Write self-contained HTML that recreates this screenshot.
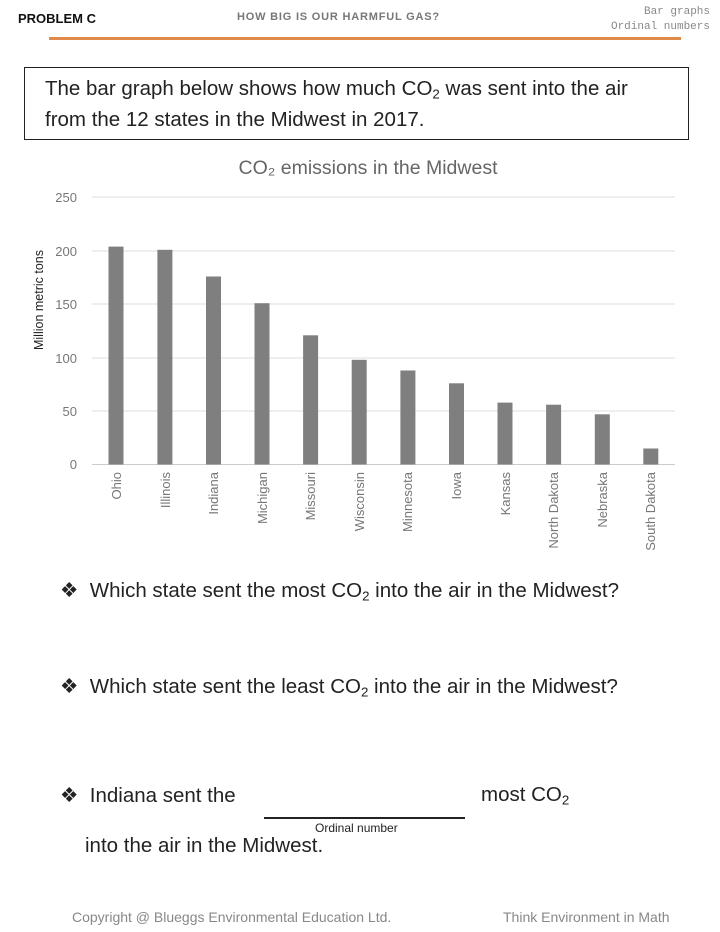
<!DOCTYPE html>
<html><head><meta charset="utf-8"><style>
body{margin:0;width:720px;height:932px;background:#fff;position:relative;overflow:hidden;font-family:"Liberation Sans",sans-serif;}
.a{position:absolute;white-space:nowrap;}
sub{font-size:0.65em;vertical-align:-0.25em;}
</style></head><body>
<div class="a" style="left:18px;top:11px;font:bold 13px 'Liberation Sans',sans-serif;color:#111;">PROBLEM C</div>
<div class="a" style="left:237px;top:11px;font:bold 11px 'Liberation Sans',sans-serif;color:#777;letter-spacing:0.8px;">HOW BIG IS OUR HARMFUL GAS?</div>
<div class="a" style="right:10px;top:5px;font:11px 'Liberation Mono',monospace;color:#888;text-align:right;line-height:15px;">Bar graphs<br>Ordinal numbers</div>
<div class="a" style="left:49px;top:37px;width:632px;height:3px;background:#e08a4a;"></div>
<div class="a" style="left:24px;top:67px;width:663px;height:71px;border:1.5px solid #222;"></div>
<div class="a" style="left:45px;top:76px;font-size:20.5px;line-height:26px;color:#222;">The bar graph below shows how much CO<sub>2</sub> was sent into the air<br>from the 12 states in the Midwest in 2017.</div>
<svg class="a" style="left:0;top:0" width="720" height="570" font-family="Liberation Sans, sans-serif">
<text x="368" y="174" text-anchor="middle" font-size="19.5" fill="#666">CO₂ emissions in the Midwest</text>
<g stroke="#ddd" stroke-width="1">
<line x1="92" x2="675" y1="197" y2="197"/><line x1="92" x2="675" y1="251" y2="251"/><line x1="92" x2="675" y1="304" y2="304"/><line x1="92" x2="675" y1="358" y2="358"/><line x1="92" x2="675" y1="411" y2="411"/></g>
<line x1="92" x2="675" y1="464.5" y2="464.5" stroke="#ccc"/>
<g font-size="13" fill="#777" text-anchor="end">
<text x="77" y="202">250</text><text x="77" y="256">200</text><text x="77" y="309">150</text><text x="77" y="363">100</text><text x="77" y="416">50</text><text x="77" y="469">0</text></g>
<text transform="translate(43,300) rotate(-90)" text-anchor="middle" font-size="12.5" fill="#222">Million metric tons</text>
<g fill="#7f7f7f">
<rect x="108.5" y="246.6" width="15" height="217.9"/>
<rect x="157.4" y="249.8" width="15" height="214.7"/>
<rect x="206" y="276.5" width="15" height="188"/>
<rect x="254.5" y="303.2" width="15" height="161.3"/>
<rect x="303.1" y="335.3" width="15" height="129.2"/>
<rect x="351.7" y="359.8" width="15" height="104.7"/>
<rect x="400.4" y="370.5" width="15" height="94"/>
<rect x="449" y="383.3" width="15" height="81.2"/>
<rect x="497.5" y="402.6" width="15" height="61.9"/>
<rect x="546.1" y="404.7" width="15" height="59.8"/>
<rect x="594.8" y="414.3" width="15" height="50.2"/>
<rect x="643.3" y="448.5" width="15" height="16"/>
</g>
<g font-size="13" fill="#777" text-anchor="end">
<text transform="translate(121,472) rotate(-90)">Ohio</text>
<text transform="translate(170,472) rotate(-90)">Illinois</text>
<text transform="translate(218,472) rotate(-90)">Indiana</text>
<text transform="translate(267,472) rotate(-90)">Michigan</text>
<text transform="translate(315,472) rotate(-90)">Missouri</text>
<text transform="translate(364,472) rotate(-90)">Wisconsin</text>
<text transform="translate(412,472) rotate(-90)">Minnesota</text>
<text transform="translate(461,472) rotate(-90)">Iowa</text>
<text transform="translate(510,472) rotate(-90)">Kansas</text>
<text transform="translate(558,472) rotate(-90)">North Dakota</text>
<text transform="translate(607,472) rotate(-90)">Nebraska</text>
<text transform="translate(655,472) rotate(-90)">South Dakota</text>
</g></svg>
<div class="a" style="left:60px;top:578px;font-size:20.5px;color:#222;">❖&nbsp; Which state sent the most CO<sub>2</sub> into the air in the Midwest?</div>
<div class="a" style="left:60px;top:674px;font-size:20.5px;color:#222;">❖&nbsp; Which state sent the least CO<sub>2</sub> into the air in the Midwest?</div>
<div class="a" style="left:60px;top:783px;font-size:20.5px;color:#222;">❖&nbsp; Indiana sent the</div>
<div class="a" style="left:481px;top:783px;font-size:20.5px;color:#222;">most CO<sub>2</sub></div>
<div class="a" style="left:264px;top:817px;width:201px;height:1.5px;background:#222;"></div>
<div class="a" style="left:315px;top:821px;font-size:12px;color:#222;">Ordinal number</div>
<div class="a" style="left:85px;top:834px;font-size:20.5px;color:#222;">into the air in the Midwest.</div>
<div class="a" style="left:72px;top:909px;font-size:14px;color:#888;">Copyright @ Blueggs Environmental Education Ltd.</div>
<div class="a" style="left:503px;top:909px;font-size:14px;color:#888;">Think Environment in Math</div>
</body></html>
